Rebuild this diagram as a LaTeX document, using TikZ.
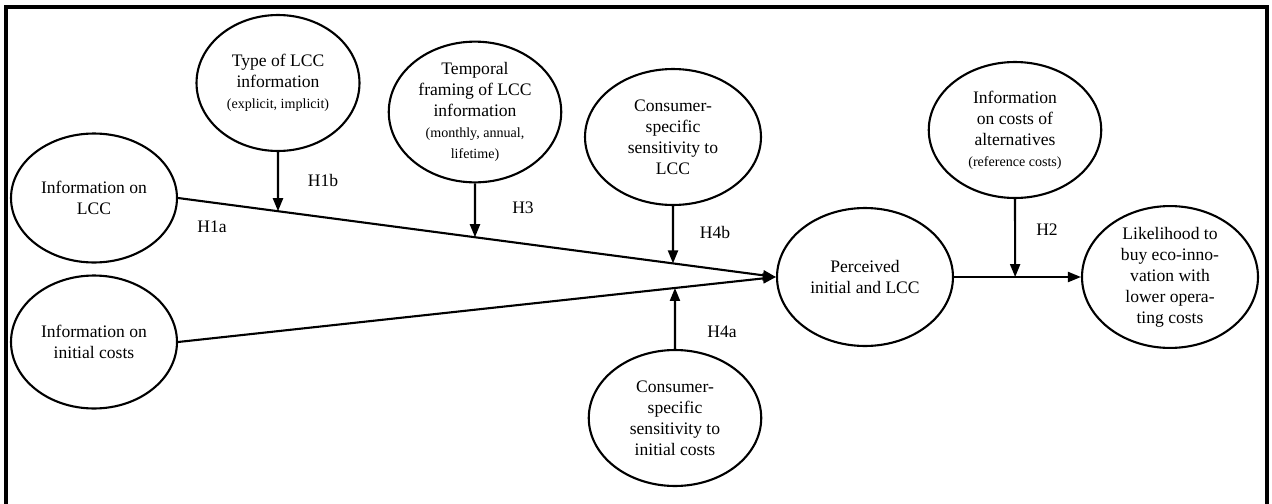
\documentclass[tikz,border=0pt]{standalone}
\usepackage{fontspec}
\setmainfont{Liberation Serif}
\usetikzlibrary{shapes.geometric,arrows.meta}
\newcommand{\detail}[1]{{\footnotesize #1}}

\begin{document}
\begin{tikzpicture}[x=0.02cm,y=-0.02cm,
    var/.style={ellipse,draw,line width=1.2pt,inner sep=0pt,align=center,
      minimum width=3.45cm,minimum height=2.72cm},
    lien/.style={line width=1.2pt,-{Triangle[length=2.6mm,width=2mm]}},
    hyp/.style={inner sep=1pt}]
  % On fixe la zone de l'image et on trace le cadre (sans bord du bas)
  \useasboundingbox (0,0) rectangle (1272,504);
  \draw[line width=2pt] (6,504) |- (1267,7) -- (1267,504);

  % Les deux variables d'entree, a gauche
  \node[var,minimum width=3.32cm,minimum height=2.58cm] (lcc) at (94,198) {Information on\\LCC};
  \node[var,minimum width=3.32cm,minimum height=2.66cm] (init) at (94,342) {Information on\\initial costs};

  % Les moderateurs : en haut, puis en bas
  \node[var,minimum width=3.26cm] (type) at (278,83) {Type of LCC\\information\\\detail{(explicit, implicit)}};
  \node[var] (temp) at (475,112) {Temporal\\framing of LCC\\information\\\detail{(monthly, annual,}\\\detail{lifetime)}};
  \node[var,minimum width=3.52cm] (clcc) at (673,137) {Consumer-\\specific\\sensitivity to\\LCC};
  \node[var] (cinit) at (675,418) {Consumer-\\specific\\sensitivity to\\initial costs};
  \node[var] (alt) at (1015,130) {Information\\on costs of\\alternatives\\\detail{(reference costs)}};

  % Variable mediatrice et variable de sortie
  \node[var,minimum width=3.52cm,minimum height=2.76cm] (per) at (865,277) {Perceived\\initial and LCC};
  \node[var,minimum width=3.52cm,minimum height=2.62cm] (lik) at (1170,277) {Likelihood to\\buy eco-inno-\\vation with\\lower opera-\\ting costs};

  % Les liens principaux
  \draw[lien] (lcc.east) -- (per.west);
  \draw[lien] (init.east) -- (per.west);
  \draw[lien] (per.east) -- (lik.west);

  % Les fleches des moderateurs, qui tombent a la verticale sur les liens
  \draw[lien] (type.south) -- (intersection of lcc.east--per.west and type.south--type.north);
  \draw[lien] (temp.south) -- (intersection of lcc.east--per.west and temp.south--temp.north);
  \draw[lien] (clcc.south) -- (intersection of lcc.east--per.west and clcc.south--clcc.north);
  \draw[lien] (cinit.north) -- (intersection of init.east--per.west and cinit.north--cinit.south);
  \draw[lien] (alt.south) -- (intersection of per.east--lik.west and alt.south--alt.north);

  % Les hypotheses
  \node[hyp] (h1a) at (212,227) {H1a};
  \node[hyp] (h1b) at (323,180) {H1b};
  \node[hyp] (h3) at (523,208) {H3};
  \node[hyp] (h4b) at (715,232) {H4b};
  \node[hyp] (h4a) at (722,332) {H4a};
  \node[hyp] (h2) at (1047,230) {H2};
\end{tikzpicture}
\end{document}
